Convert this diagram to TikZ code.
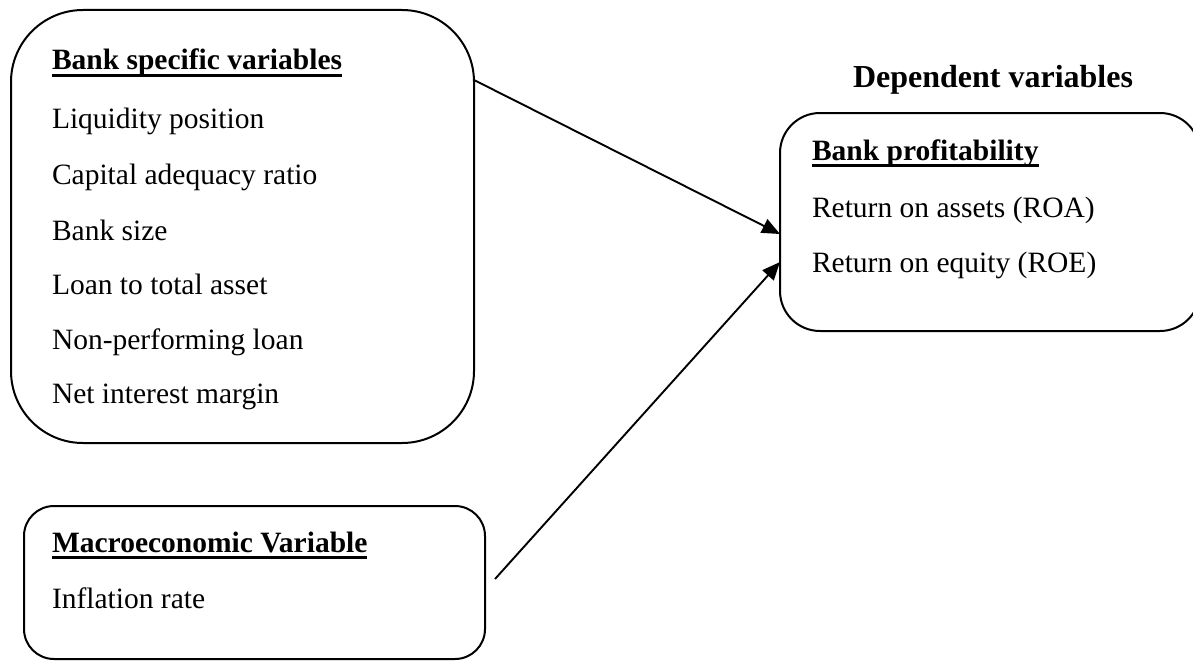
\documentclass[tikz,border=0pt]{standalone}
\usepackage{fontspec}
\setmainfont{Liberation Serif}
\usetikzlibrary{arrows.meta}
\begin{document}
\begin{tikzpicture}[x=1pt,y=-1pt,
  box/.style={draw=black,line width=2pt,inner sep=0pt,outer sep=0pt},
  txt/.style={anchor=base west,inner sep=0pt,outer sep=0pt,font=\fontsize{29.5}{35}\selectfont},
  head/.style={txt,font=\fontsize{29.5}{35}\selectfont\bfseries},
  conn/.style={line width=1.9pt,-{Triangle[length=18pt,width=15pt]}},
  uline/.style={line width=2.4pt}]
\useasboundingbox (0,0) rectangle (1193,661);
% boxes
\node[box,rounded corners=72pt,minimum width=463pt,minimum height=433pt] (bsv) at (242.5,226.5) {};
\node[box,rounded corners=30pt,minimum width=461pt,minimum height=153pt] (mac) at (254.5,582.5) {};
\node[box,rounded corners=40pt,minimum width=420pt,minimum height=218pt] (dep) at (990,222) {};
% texts box 1
\node[head] (t1) at (52,70) {Bank specific variables};
\node[txt] (l1) at (52,128) {Liquidity position};
\node[txt] (l2) at (52,184) {Capital adequacy ratio};
\node[txt] (l3) at (52,240) {Bank size};
\node[txt] (l4) at (52,294) {Loan to total asset};
\node[txt] (l5) at (52,349) {Non-performing loan};
\node[txt] (l6) at (52,403) {Net interest margin};
% macro box
\node[head] (t2) at (52,552) {Macroeconomic Variable};
\node[txt] (m1) at (52,608) {Inflation rate};
% dependent
\node[txt,font=\fontsize{32}{38}\selectfont\bfseries] (dv) at (853,88) {Dependent variables};
\node[head] (t3) at (812,160) {Bank profitability};
\node[txt] (r1) at (812,217) {Return on assets (ROA)};
\node[txt] (r2) at (812,272) {Return on equity (ROE)};
% underlines
\draw[uline] ([yshift=-5.5pt]t1.base west) -- ([yshift=-5.5pt]t1.base east);
\draw[uline] ([yshift=-5.5pt]t2.base west) -- ([yshift=-5.5pt]t2.base east);
\draw[uline] ([yshift=-5.5pt]t3.base west) -- ([yshift=-5.5pt]t3.base east);
% connectors
\coordinate (s1) at (474,80);
\coordinate (s2) at (495,579);
\draw[conn] (s1) -- (dep.west |- 0,234);
\draw[conn] (s2) -- (dep.west |- 0,262);
\end{tikzpicture}
\end{document}
